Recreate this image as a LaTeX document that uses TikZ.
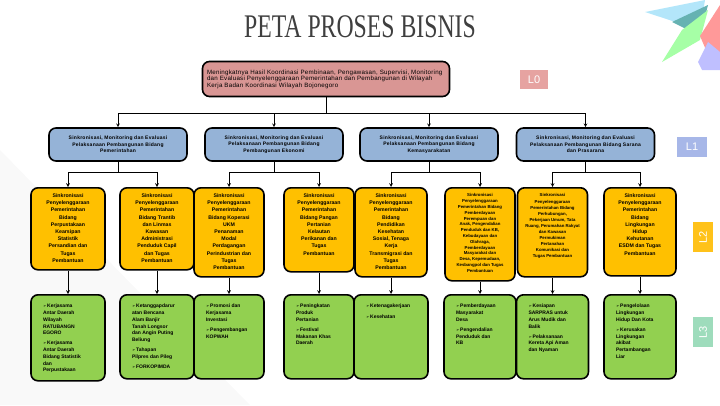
\documentclass[tikz,border=0pt]{standalone}
\usepackage{fontspec}
\usepackage{xcolor,graphicx}
\setmainfont{Liberation Sans}
\newfontfamily\titlefont{Liberation Serif}
\newfontfamily\symfont{DejaVu Sans}

\definecolor{rosebox}{HTML}{D99694}
\definecolor{bluebox}{HTML}{95B3D7}
\definecolor{amberbox}{HTML}{FFC000}
\definecolor{limebox}{HTML}{92D050}
\definecolor{tagzero}{HTML}{E6A3A1}
\definecolor{tagone}{HTML}{A7B7E8}
\definecolor{tagtwo}{HTML}{FFC21A}
\definecolor{tagthree}{HTML}{9EDCBC}
\definecolor{titlegray}{HTML}{3F3F3F}

% text blocks inside the boxes
\newcommand{\ctext}[3]{\parbox[c][#2][t]{#1}{\centering\vspace*{6pt}#3}}
\newcommand{\ltext}[3]{\parbox[c][#2][t]{#1}{\raggedright\leftskip=12pt\vspace*{6pt}#3}}
\newcommand{\itm}{\par\addvspace{3.5pt}\hangindent=5pt\hangafter=1{\symfont\fontsize{4}{4}\selectfont ➢}\,}

\tikzset{
  box/.style={draw=black, line width=1.6pt, rounded corners=7pt, inner sep=0pt},
  lvzero/.style={box, fill=rosebox, font=\fontsize{6.2}{6.6}\selectfont\addfontfeature{LetterSpace=4}},
  lvone/.style={box, fill=bluebox, align=center, font=\fontsize{5}{6.6}\selectfont\bfseries\addfontfeature{LetterSpace=5}},
  lvtwo/.style={box, fill=amberbox, anchor=north, font=\fontsize{5.2}{7.2}\selectfont\bfseries},
  lvthree/.style={box, fill=limebox, anchor=north, font=\fontsize{5}{6.7}\selectfont\bfseries},
  tag/.style={text=white, inner sep=0pt, font=\fontsize{11}{11}\selectfont},
  link/.style={line width=0.7pt},
}

\begin{document}
\begin{tikzpicture}[x=1pt,y=-1pt,>=stealth]
\useasboundingbox (0,0) rectangle (720,405);

% background and corner ornament
\fill[gray!5] (0,150) -- (250,405) -- (0,405) -- cycle;
\fill[cyan!30!white] (645,12) -- (705,0) -- (700,30) -- cycle;
\fill[teal!60!white] (672,22) -- (708,5) -- (700,36) -- cycle;
\fill[green!35!white] (662,62) -- (682,30) -- (708,10) -- (700,40) -- cycle;
\fill[red!40!white] (700,36) -- (720,5) -- (720,60) -- (706,50) -- cycle;
\fill[blue!25!white] (698,62) -- (708,42) -- (720,52) -- (720,70) -- (702,70) -- cycle;

\node[text=titlegray] (title) at (360,27) {\titlefont\fontsize{33}{33}\selectfont\scalebox{0.72}[1]{PETA PROSES BISNIS}};

% level 0
\node[lvzero, minimum width=247pt, minimum height=35pt] (l0) at (326,79) {\parbox{238pt}{\raggedright
Meningkatnya Hasil Koordinasi Pembinaan, Pengawasan, Supervisi, Monitoring\\
dan Evaluasi Penyelenggaraan Pemerintahan dan Pembangunan di Wilayah\\
Kerja Badan Koordinasi Wilayah Bojonegoro}};

% level 1
\node[lvone, minimum width=138pt, minimum height=33pt] (l1a) at (118,144.5) {Sinkronisasi, Monitoring dan Evaluasi\\Pelaksanaan Pembangunan Bidang\\Pemerintahan};
\node[lvone, minimum width=138pt, minimum height=33pt] (l1b) at (274,144.5) {Sinkronisasi, Monitoring dan Evaluasi\\Pelaksanaan Pembangunan Bidang\\Pembangunan Ekonomi};
\node[lvone, minimum width=138pt, minimum height=33pt] (l1c) at (429,144.5) {Sinkronisasi, Monitoring dan Evaluasi\\Pelaksanaan Pembangunan Bidang\\Kemasyarakatan};
\node[lvone, minimum width=138pt, minimum height=33pt] (l1d) at (585.5,144.5) {Sinkronisasi, Monitoring dan Evaluasi\\Pelaksanaan Pembangunan Bidang Sarana\\dan Prasarana};

% level 2
\node[lvtwo] (l2a) at (68,187) {\ctext{74pt}{82pt}{Sinkronisasi\\Penyelenggaraan\\Pemerintahan\\Bidang\\Perpustakaan\\Kearsipan\\Statistik\\Persandian dan\\Tugas\\Pembantuan}};
\node[lvtwo] (l2b) at (157,187) {\ctext{74pt}{82pt}{Sinkronisasi\\Penyelenggaraan\\Pemerintahan\\Bidang Trantib\\dan Linmas\\Kawasan\\Administrasi\\Penduduk Capil\\dan Tugas\\Pembantuan}};
\node[lvtwo] (l2c) at (229,187) {\ctext{70pt}{89pt}{Sinkronisasi\\Penyelenggaraan\\Pemerintahan\\Bidang Koperasi\\UKM\\Penanaman\\Modal\\Perdagangan\\Perindustrian dan\\Tugas\\Pembantuan}};
\node[lvtwo] (l2d) at (319,187) {\ctext{70pt}{84pt}{Sinkronisasi\\Penyelenggaraan\\Pemerintahan\\Bidang Pangan\\Pertanian\\Kelautan\\Perikanan dan\\Tugas\\Pembantuan}};
\node[lvtwo] (l2e) at (391,187) {\ctext{72pt}{89pt}{Sinkronisasi\\Penyelenggaraan\\Pemerintahan\\Bidang\\Pendidikan\\Kesehatan\\Sosial, Tenaga\\Kerja\\Transmigrasi dan\\Tugas\\Pembantuan}};
\node[lvtwo] (l2f) at (480,187) {\ctext{70pt}{93pt}{\fontsize{4.3}{5.8}\selectfont Sinkronisasi\\Penyelenggaraan\\Pemerintahan Bidang\\Pemberdayaan\\Perempuan dan\\Anak, Pengendalian\\Penduduk dan KB,\\Kebudayaan dan\\Olahraga,\\Pemberdayaan\\Masyarakat dan\\Desa, Kepemudaan,\\Kesbangpol dan Tugas\\Pembantuan}};
\node[lvtwo] (l2g) at (552.5,187) {\ctext{70pt}{89pt}{\fontsize{4.3}{6.1}\selectfont Sinkronisasi\\Penyelenggaraan\\Pemerintahan Bidang\\Perhubungan,\\Pekerjaan Umum, Tata\\Ruang, Perumahan Rakyat\\dan Kawasan\\Permukiman\\Pertanahan\\Komunikasi dan\\Tugas Pembantuan}};
\node[lvtwo] (l2h) at (640,187) {\ctext{72pt}{88pt}{Sinkronisasi\\Penyelenggaraan\\Pemerintahan\\Bidang\\Lingkungan\\Hidup\\Kehutanan\\ESDM dan Tugas\\Pembantuan}};

% level 3
\node[lvthree] (l3a) at (68,294) {\ltext{74pt}{86pt}{\itm Kerjasama\\Antar Daerah\\Wilayah\\RATUBANGN\\EGORO\itm Kerjasama\\Antar Daerah\\Bidang Statistik\\dan\\Perpustakaan}};
\node[lvthree] (l3b) at (157,294) {\ltext{74pt}{84pt}{\itm Ketanggapdarur\\atan Bencana\\Alam Banjir\\Tanah Longsor\\dan Angin Puting\\Beliung\itm Tahapan\\Pilpres dan Pileg\itm FORKOPIMDA}};
\node[lvthree] (l3c) at (229,294) {\ltext{70pt}{84pt}{\itm Promosi dan\\Kerjasama\\Investasi\itm Pengembangan\\KOPWAH}};
\node[lvthree] (l3d) at (319,294) {\ltext{70pt}{84pt}{\itm Peningkatan\\Produk\\Pertanian\itm Festival\\Makanan Khas\\Daerah}};
\node[lvthree] (l3e) at (391,294) {\ltext{74pt}{84pt}{\itm Ketenagakerjaan\itm Kesehatan}};
\node[lvthree] (l3f) at (480,294) {\ltext{72pt}{84pt}{\itm Pemberdayaan\\Masyarakat\\Desa\itm Pengendalian\\Penduduk dan\\KB}};
\node[lvthree] (l3g) at (552.5,294) {\ltext{72pt}{84pt}{\itm Kesiapan\\SARPRAS untuk\\Arus Mudik dan\\Balik\itm Pelaksanaan\\Kereta Api Aman\\dan Nyaman}};
\node[lvthree] (l3h) at (640,294) {\ltext{72pt}{84pt}{\itm Pengelolaan\\Lingkungan\\Hidup Dan Kota\itm Kerusakan\\Lingkungan\\akibat\\Pertambangan\\Liar}};

% level tags
\node[tag, fill=tagzero, minimum width=28pt, minimum height=19pt] (t0) at (534,79.5) {L0};
\node[tag, fill=tagone, minimum width=30pt, minimum height=20pt] (t1) at (692,147) {L1};
\node[tag, fill=tagtwo, minimum width=20pt, minimum height=30pt] (t2) at (703,237) {\rotatebox{90}{L2}};
\node[tag, fill=tagthree, minimum width=20pt, minimum height=30pt] (t3) at (703,332) {\rotatebox{90}{L3}};

% connectors
\coordinate (bus0) at (0,113);
\coordinate (bus1) at (0,172);
\draw[link] (l0.south) -- (l0.south |- bus0);
\draw[link] (l1a.north |- bus0) -- (l1d.north |- bus0);
\foreach \n in {l1a,l1b,l1c,l1d}
  \draw[link,->] (\n.north |- bus0) -- (\n.north);
\foreach \p/\a/\b in {l1a/l2a/l2b, l1b/l2c/l2d, l1c/l2e/l2f, l1d/l2g/l2h}{
  \draw[link] (\p.south) -- (\p.south |- bus1);
  \draw[link] (\a.north |- bus1) -- (\b.north |- bus1);
  \draw[link,->] (\a.north |- bus1) -- (\a.north);
  \draw[link,->] (\b.north |- bus1) -- (\b.north);
}
\foreach \i in {a,b,c,d,e,f,g,h}
  \draw[link,->] (l2\i.south) -- (l3\i.north);

\end{tikzpicture}
\end{document}
